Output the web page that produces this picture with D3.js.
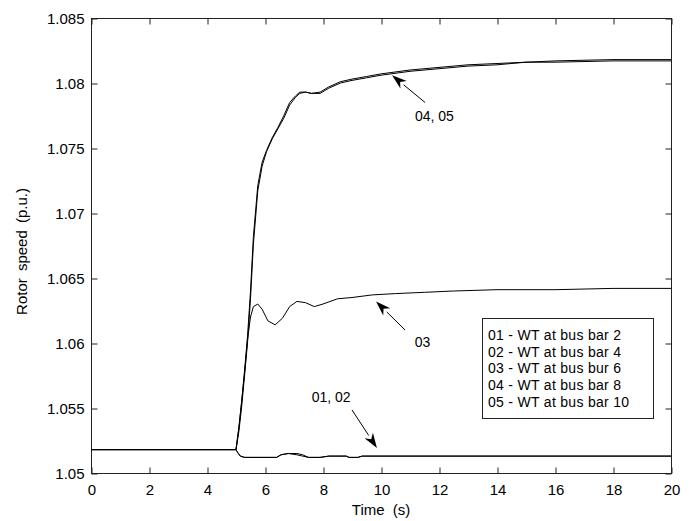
<!DOCTYPE html>
<html>
<head>
<meta charset="utf-8">
<script src="https://cdn.jsdelivr.net/npm/d3@7/dist/d3.min.js"></script>
<style>
  body { margin: 0; background: #fff; }
  svg { display: block; overflow: visible; }
  text { font-family: "Liberation Sans", Arial, sans-serif; fill: #000; }
</style>
</head>
<body>
<div id="chart"></div>
<script>
// Rotor speed of wind turbines after the disturbance at t = 5 s

const xTicks = [0, 2, 4, 6, 8, 10, 12, 14, 16, 18, 20];
const yTicks = [1.05, 1.055, 1.06, 1.065, 1.07, 1.075, 1.08, 1.085];

// 01 / 02 - WT at bus bar 2 and 4
const t01 = [0, 5.0, 5.05, 5.15, 5.3, 6.4, 6.55, 6.8, 7.1, 7.3, 7.5, 7.9, 8.2, 8.8, 8.9, 9.2, 9.35, 20];
const v01 = [1.0518, 1.0518, 1.0516, 1.0513, 1.0512, 1.0512, 1.0514, 1.0515, 1.0515, 1.0514, 1.0512, 1.0512, 1.0513, 1.0513, 1.0512, 1.0512, 1.0513, 1.0513];
const t02 = [0, 5.0, 5.05, 5.15, 5.3, 6.4, 6.55, 6.8, 7.1, 7.3, 7.5, 7.9, 8.2, 8.8, 8.9, 9.2, 9.35, 20];
const v02 = [1.0518, 1.0518, 1.0516, 1.0513, 1.0512, 1.0512, 1.0514, 1.0515, 1.0514, 1.0513, 1.0512, 1.0512, 1.0513, 1.0513, 1.0512, 1.0512, 1.0513, 1.0513];

// 03 - WT at bus bar 6
const t03 = [0, 5.0, 5.1, 5.2, 5.3, 5.4, 5.5, 5.6, 5.75, 5.9, 6.1, 6.35, 6.6, 6.85, 7.1, 7.4, 7.7, 8.0, 8.5, 9.0, 9.7, 10.5, 11.5, 12.5, 14, 16, 18, 20];
const v03 = [1.0518, 1.0518, 1.0535, 1.0556, 1.0578, 1.0603, 1.0620, 1.0628, 1.0630, 1.0626, 1.0617, 1.0614, 1.0619, 1.0628, 1.0632, 1.0631, 1.0628, 1.0630, 1.0634, 1.0635, 1.0637, 1.0638, 1.0639, 1.0640, 1.0641, 1.0641, 1.0642, 1.0642];

// 04 / 05 - WT at bus bar 8 and 10
const t04 = [0, 5.0, 5.1, 5.2, 5.3, 5.4, 5.5, 5.6, 5.75, 5.9, 6.05, 6.25, 6.45, 6.65, 6.85, 7.05, 7.2, 7.4, 7.6, 7.9, 8.2, 8.6, 9.0, 9.5, 10, 11, 12, 13, 14, 15, 16, 18, 20];
const v04 = [1.0518, 1.0518, 1.0535, 1.0556, 1.0580, 1.0606, 1.0640, 1.0682, 1.0721, 1.0739, 1.0748, 1.0758, 1.0766, 1.0775, 1.0785, 1.0790, 1.0793, 1.0793, 1.0792, 1.0793, 1.0797, 1.0801, 1.0803, 1.0805, 1.0807, 1.0810, 1.0812, 1.0814, 1.0815, 1.0816, 1.0817, 1.0818, 1.0818];
const t05 = [0, 5.0, 5.1, 5.2, 5.3, 5.4, 5.5, 5.6, 5.75, 5.9, 6.05, 6.25, 6.45, 6.65, 6.85, 7.05, 7.2, 7.4, 7.6, 7.9, 8.2, 8.6, 9.0, 9.5, 10, 11, 12, 13, 14, 15, 16, 18, 20];
const v05 = [1.0518, 1.0518, 1.0532, 1.0552, 1.0576, 1.0601, 1.0634, 1.0676, 1.0717, 1.0736, 1.0747, 1.0757, 1.0765, 1.0773, 1.0783, 1.0789, 1.0792, 1.0793, 1.0792, 1.0792, 1.0796, 1.0800, 1.0802, 1.0804, 1.0806, 1.0809, 1.0811, 1.0813, 1.0814, 1.0816, 1.0816, 1.0817, 1.0817];

const legendLabels = [
  '01 - WT at bus bar 2',
  '02 - WT at bus bar 4',
  '03 - WT at bus bur 6',
  '04 - WT at bus bar 8',
  '05 - WT at bus bar 10'
];

// annotations: label, arrow tail and arrow tip in data units
const noteLabels = ['04, 05', '03', '01, 02'];
const noteText = [[11.84, 1.0771], [11.43, 1.0597], [8.28, 1.05546]];
const noteTail = [[11.52, 1.0785], [10.83, 1.0610], [9.0, 1.05485]];
const noteTip = [[10.38, 1.0806], [9.83, 1.0632], [9.86, 1.05192]];

const width = 693;
const height = 521;
const margin = { top: 18, right: 22, bottom: 48, left: 91 };
const innerWidth = width - margin.left - margin.right;
const innerHeight = height - margin.top - margin.bottom;

const svg = d3.select('#chart').append('svg')
  .attr('width', width)
  .attr('height', height);

const g = svg.append('g')
  .attr('transform', `translate(${margin.left},${margin.top})`);

const x = d3.scaleLinear().domain([0, 20]).range([0, innerWidth]);
const y = d3.scaleLinear().domain([1.05, 1.085]).range([innerHeight, 0]);

const fontSize = '15px';

// box
g.append('rect')
  .attr('x', 0.5)
  .attr('y', 0.5)
  .attr('width', innerWidth)
  .attr('height', innerHeight)
  .attr('fill', 'none')
  .attr('stroke', '#222')
  .attr('stroke-width', 1);

// axes with inward ticks (MATLAB style)
const xAxis = g.append('g')
  .attr('transform', `translate(0.5,${innerHeight + 0.5})`)
  .call(d3.axisBottom(x).tickValues(xTicks).tickSize(-6).tickPadding(10).tickFormat(d3.format('d')));
const xAxisTop = g.append('g')
  .attr('transform', 'translate(0.5,0.5)')
  .call(d3.axisTop(x).tickValues(xTicks).tickSize(-6));
const yAxis = g.append('g')
  .attr('transform', 'translate(0.5,0.5)')
  .call(d3.axisLeft(y).tickValues(yTicks).tickSize(-6).tickPadding(7).tickFormat(d => String(+d.toFixed(3))));
const yAxisRight = g.append('g')
  .attr('transform', `translate(${innerWidth + 0.5},0.5)`)
  .call(d3.axisRight(y).tickValues(yTicks).tickSize(-6));

// mirrored axes carry ticks only
xAxisTop.selectAll('text').remove();
yAxisRight.selectAll('text').remove();

[xAxis, xAxisTop, yAxis, yAxisRight].forEach(ax => {
  ax.attr('font-size', null).attr('font-family', null);
  ax.select('.domain').remove();
  ax.selectAll('.tick line').attr('stroke', '#222');
});

// tick labels with explicit anchor and baseline
xAxis.selectAll('.tick text')
  .attr('y', 21)
  .attr('dy', null)
  .attr('text-anchor', 'middle')
  .attr('font-size', fontSize)
  .attr('fill', '#000');
yAxis.selectAll('.tick text')
  .attr('x', -7)
  .attr('y', 5)
  .attr('dy', null)
  .attr('text-anchor', 'end')
  .attr('font-size', fontSize)
  .attr('fill', '#000');

// axis titles
svg.append('text')
  .attr('x', margin.left + innerWidth / 2)
  .attr('y', 515)
  .attr('text-anchor', 'middle')
  .attr('font-size', fontSize)
  .attr('word-spacing', '4px')
  .text('Time (s)');

svg.append('text')
  .attr('transform', `translate(27,${margin.top + innerHeight / 2 + 6}) rotate(-90)`)
  .attr('text-anchor', 'middle')
  .attr('font-size', fontSize)
  .attr('word-spacing', '3px')
  .text('Rotor speed (p.u.)');

// curves
const line = d3.line()
  .x(d => x(d[0]))
  .y(d => y(d[1]));

const series = [[t01, v01], [t02, v02], [t03, v03], [t04, v04], [t05, v05]];
series.forEach(([ts, vs]) => {
  g.append('path')
    .datum(ts.map((t, i) => [t, vs[i]]))
    .attr('d', line)
    .attr('fill', 'none')
    .attr('stroke', '#000')
    .attr('stroke-width', 1);
});

// annotation arrows
const headLen = 15;
const headHalf = 5;
noteLabels.forEach((label, i) => {
  const x0 = x(noteTail[i][0]), y0 = y(noteTail[i][1]);
  const x1 = x(noteTip[i][0]), y1 = y(noteTip[i][1]);
  const ang = Math.atan2(y1 - y0, x1 - x0);
  const bx = x1 - headLen * Math.cos(ang);
  const by = y1 - headLen * Math.sin(ang);

  g.append('line')
    .attr('x1', x0).attr('y1', y0)
    .attr('x2', bx).attr('y2', by)
    .attr('stroke', '#000')
    .attr('stroke-width', 1);

  g.append('path')
    .attr('d', `M${x1},${y1}` +
      `L${bx + headHalf * Math.sin(ang)},${by - headHalf * Math.cos(ang)}` +
      `L${x1 - headLen * 0.7 * Math.cos(ang)},${y1 - headLen * 0.7 * Math.sin(ang)}` +
      `L${bx - headHalf * Math.sin(ang)},${by + headHalf * Math.cos(ang)}Z`)
    .attr('fill', '#000');

  g.append('text')
    .attr('x', x(noteText[i][0]))
    .attr('y', y(noteText[i][1]))
    .attr('text-anchor', 'middle')
    .attr('font-size', '14px')
    .text(label);
});

// legend box
const legendW = 171;
const legend = g.append('g')
  .attr('transform', `translate(${innerWidth - 18 - legendW},300)`);

legend.append('rect')
  .attr('x', 0.5)
  .attr('y', 0.5)
  .attr('width', legendW)
  .attr('height', 100)
  .attr('fill', '#fff')
  .attr('stroke', '#222')
  .attr('stroke-width', 1);

legendLabels.forEach((label, i) => {
  legend.append('text')
    .attr('x', 6)
    .attr('y', 22 + i * 16.7)
    .attr('font-size', '14px')
    .attr('letter-spacing', '0.3px')
    .text(label);
});
</script>
</body>
</html>
